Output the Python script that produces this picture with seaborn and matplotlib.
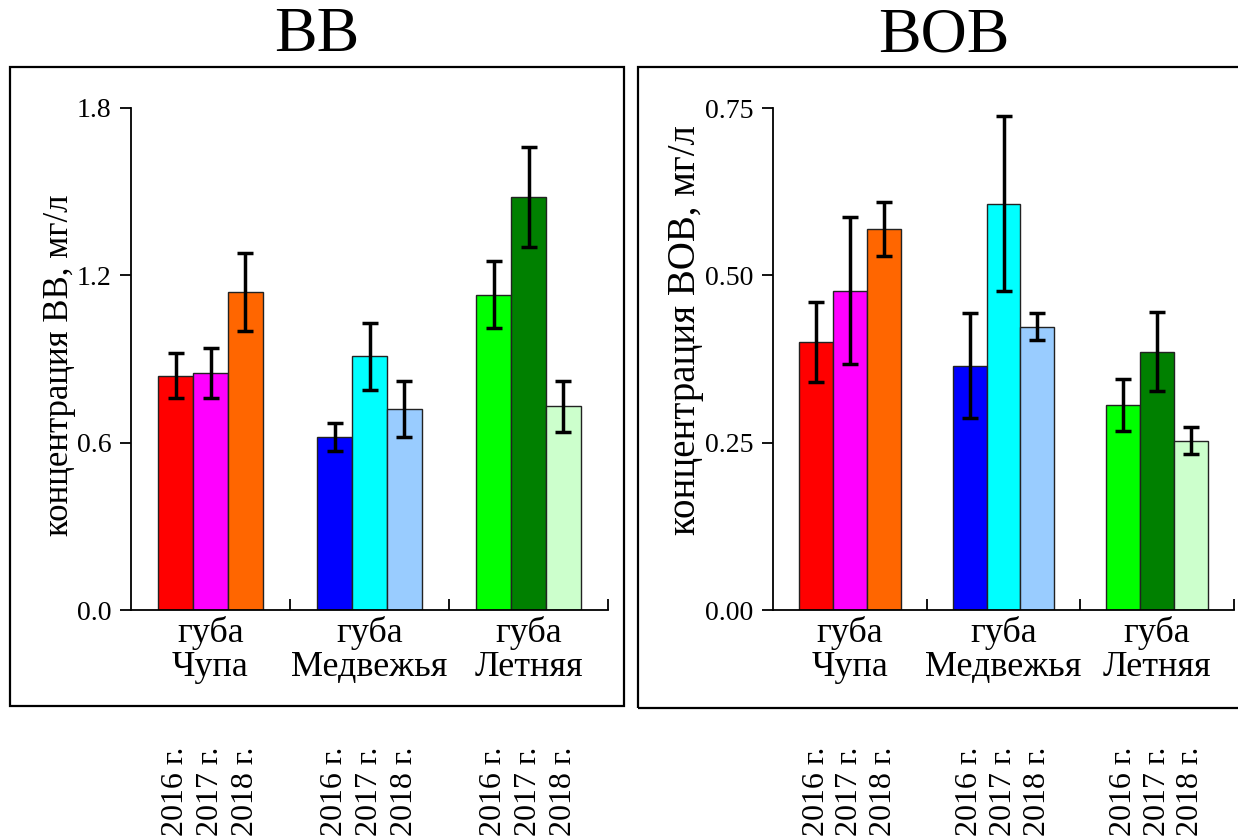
import matplotlib
matplotlib.use("Agg")
import matplotlib.pyplot as plt
import matplotlib.transforms as mtransforms
from matplotlib.patches import Rectangle
from matplotlib.ticker import FixedLocator
import seaborn as sns
import pandas as pd

# ---------------- data ----------------
sites = ["губа\nЧупа", "губа\nМедвежья", "губа\nЛетняя"]
years = ["2016 г.", "2017 г.", "2018 г."]

bb_mean = [[0.84, 0.85, 1.14],
           [0.62, 0.91, 0.72],
           [1.13, 1.48, 0.73]]
bb_err = [[0.08, 0.09, 0.14],
          [0.05, 0.12, 0.10],
          [0.12, 0.18, 0.09]]

bob_mean = [[0.40, 0.477, 0.569],
            [0.365, 0.607, 0.423],
            [0.306, 0.386, 0.253]]
bob_err = [[0.06, 0.11, 0.04],
           [0.078, 0.131, 0.02],
           [0.039, 0.059, 0.02]]

bar_colors = [["#FF0000", "#FF00FF", "#FF6600"],
              ["#0000FF", "#00FFFF", "#99CCFF"],
              ["#00FF00", "#008000", "#CCFFCC"]]

titles = ["ВВ", "ВОВ"]
ylabels = ["концентрация ВВ, мг/л", "концентрация ВОВ, мг/л"]
yticks_bb = [0.0, 0.6, 1.2, 1.8]
yticks_bob = [0.00, 0.25, 0.50, 0.75]
ytick_fmt = ["{:.1f}", "{:.2f}"]

# ---------------- style ----------------
sns.set_theme(style="white")
plt.rcParams["font.family"] = ["Liberation Serif", "DejaVu Serif"]
plt.rcParams["text.color"] = "black"
plt.rcParams["axes.labelcolor"] = "black"
plt.rcParams["xtick.color"] = "black"
plt.rcParams["ytick.color"] = "black"

W, H = 1238, 840
fig = plt.figure(figsize=(W / 100, H / 100), dpi=100)


def long_df(means):
    rows = []
    for i, s in enumerate(sites):
        for j, y in enumerate(years):
            rows.append({"site": s, "year": y, "value": means[i][j]})
    return pd.DataFrame(rows)


panels = [
    dict(means=bb_mean, errs=bb_err, ticks=yticks_bb, fmt=ytick_fmt[0],
         rect=(131, 108, 608, 610), title=titles[0], title_x=317,
         ylabel=ylabels[0], ylab_fs=25, ylab_pos=(60, 365),
         box=(10, 67, 624, 706)),
    dict(means=bob_mean, errs=bob_err, ticks=yticks_bob, fmt=ytick_fmt[1],
         rect=(773, 108, 1234, 610), title=titles[1], title_x=944,
         ylabel=ylabels[1], ylab_fs=28, ylab_pos=(686, 330),
         box=(638, 67, 1260, 708)),
]

for p in panels:
    x0, y0, x1, y1 = p["rect"]
    ax = fig.add_axes([x0 / W, (H - y1) / H, (x1 - x0) / W, (y1 - y0) / H])
    df = long_df(p["means"])
    sns.barplot(data=df, x="site", y="value", hue="year", order=sites,
                hue_order=years, width=0.66, errorbar=None, legend=False,
                edgecolor="#222222", linewidth=1.0, ax=ax, saturation=1)
    bar_conts = list(ax.containers)
    # recolour each bar individually and add error bars
    for j, cont in enumerate(bar_conts):
        for i, bar in enumerate(cont.patches):
            bar.set_facecolor(bar_colors[i][j])
            cx = bar.get_x() + bar.get_width() / 2
            ax.errorbar(cx, bar.get_height(), yerr=p["errs"][i][j],
                        fmt="none", ecolor="black", elinewidth=2.5,
                        capsize=5.6, capthick=2.5, zorder=5)
    ticks = p["ticks"]
    ax.set_ylim(0, ticks[-1])
    ax.set_xlim(-0.5, 2.5)
    ax.set_yticks(ticks)
    ax.set_yticklabels([p["fmt"].format(t) for t in ticks], fontsize=20,
                       color="black")
    ax.set_xticks(range(len(sites)))
    ax.set_xticklabels(sites, fontsize=26, color="black")
    for lbl in ax.get_xticklabels():
        lbl.set_linespacing(1.05)
    ax.xaxis.set_minor_locator(FixedLocator([0.5, 1.5, 2.5]))
    ax.tick_params(axis="x", which="major", length=0, pad=4)
    ax.tick_params(axis="x", which="minor", direction="in", length=8,
                   width=1.3, color="black", bottom=True)
    ax.tick_params(axis="y", direction="out", length=8, width=1.3,
                   color="black", left=True, pad=6)
    for sname in ["top", "right"]:
        ax.spines[sname].set_visible(False)
    for sname in ["left", "bottom"]:
        ax.spines[sname].set_color("black")
        ax.spines[sname].set_linewidth(1.3)
    ax.set_xlabel("")
    ax.set_ylabel("")
    ax.set_facecolor("white")
    # y label
    fig.text(p["ylab_pos"][0] / W, 1 - p["ylab_pos"][1] / H, p["ylabel"],
             rotation=90, ha="center", va="center", fontsize=p["ylab_fs"],
             color="black")
    # title
    fig.text(p["title_x"] / W, 1 - 36 / H, p["title"], ha="center",
             va="center", fontsize=46, color="black")
    # frame
    bx0, by0, bx1, by1 = p["box"]
    fig.patches.append(Rectangle((bx0 / W, (H - by1) / H), (bx1 - bx0) / W,
                                 (by1 - by0) / H, transform=fig.transFigure,
                                 fill=False, edgecolor="black", linewidth=1.6))
    # year labels below the frames
    trans = mtransforms.blended_transform_factory(ax.transData, fig.transFigure)
    for j, cont in enumerate(bar_conts):
        for i, bar in enumerate(cont.patches):
            cx = bar.get_x() + bar.get_width() / 2
            ax.text(cx, 4 / H, years[j], transform=trans, rotation=90,
                    ha="center", va="bottom", fontsize=23, clip_on=False,
                    color="black")

fig.savefig("out.png", dpi=100, facecolor="white")
